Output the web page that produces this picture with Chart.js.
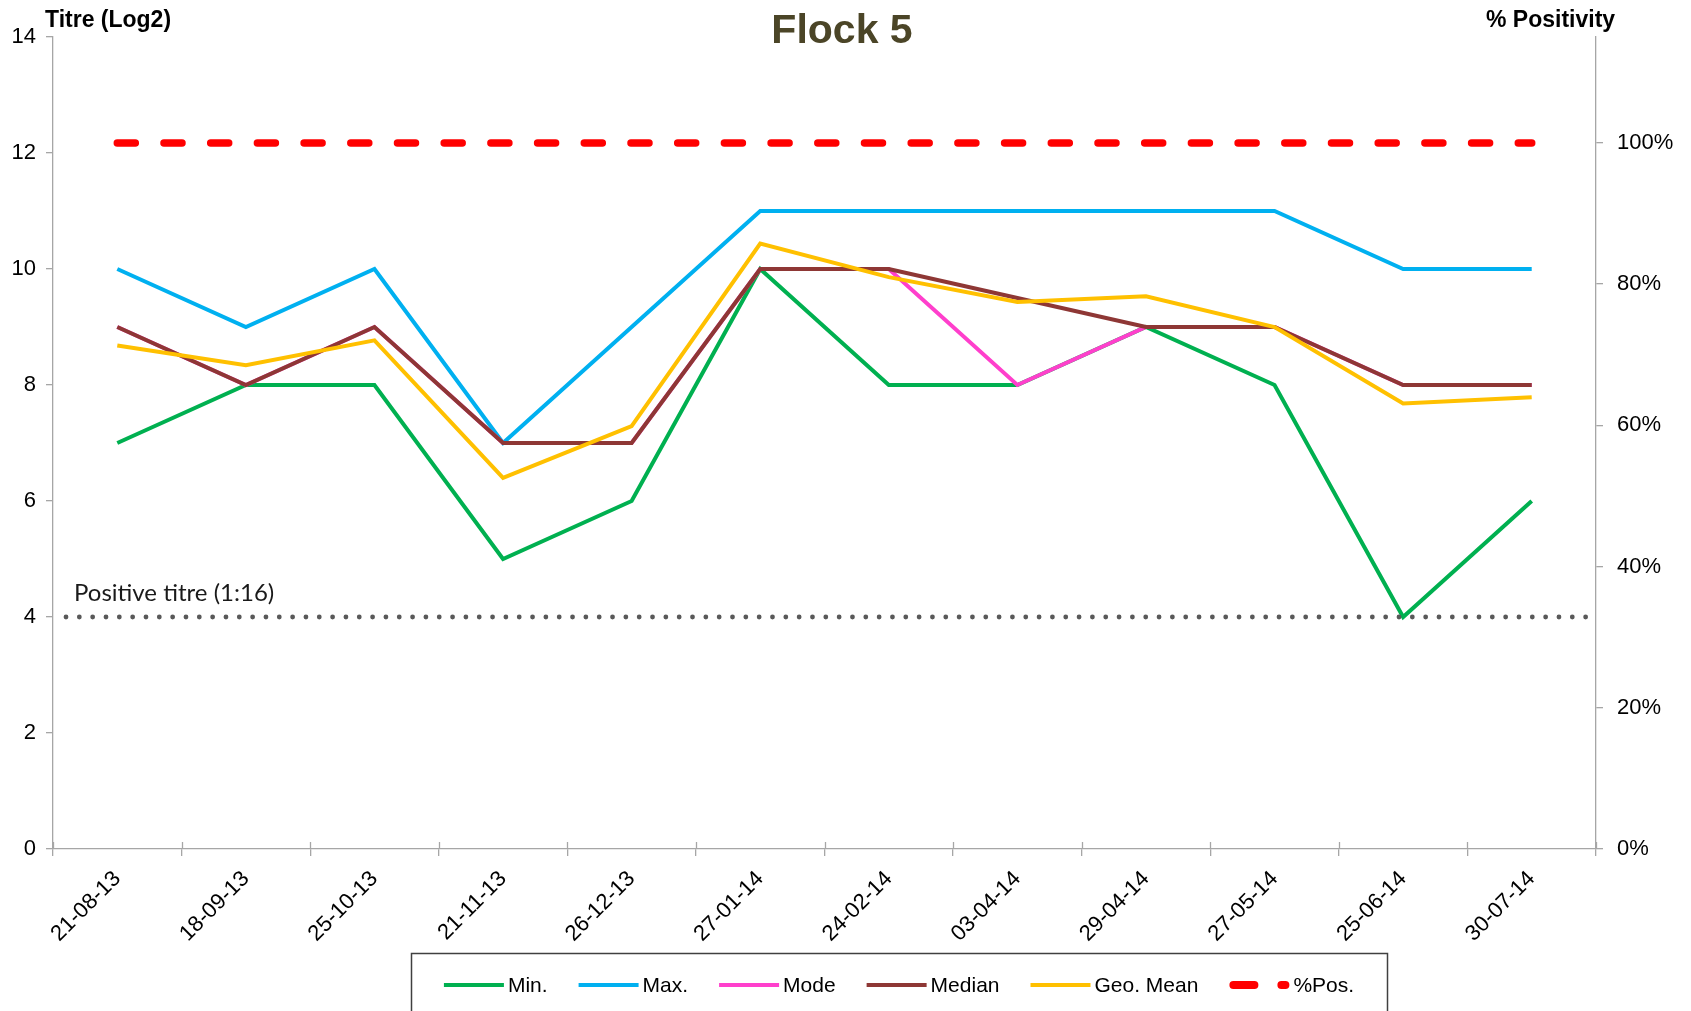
<!DOCTYPE html>
<html>
<head>
<meta charset="utf-8">
<script src="https://cdn.jsdelivr.net/npm/chart.js@4.4.1/dist/chart.umd.min.js"></script>
<style>
html,body{margin:0;padding:0;background:#fff;overflow:hidden}
#wrap{width:1691px;height:1011px;position:relative}
</style>
</head>
<body>
<div id="wrap"><canvas id="c" width="1691" height="1011"></canvas></div>
<script>
// ---- data ----
const categories = ['21-08-13','18-09-13','25-10-13','21-11-13','26-12-13','27-01-14','24-02-14','03-04-14','29-04-14','27-05-14','25-06-14','30-07-14'];
const minValues    = [7, 8, 8, 5, 6, 10, 8, 8, 9, 8, 4, 6];
const maxValues    = [10, 9, 10, 7, 9, 11, 11, 11, 11, 11, 10, 10];
const modeValues   = [9, 8, 9, 7, 7, 10, 10, 8, 9, 9, 8, 8];
const medianValues = [9, 8, 9, 7, 7, 10, 10, 9.5, 9, 9, 8, 8];
const geoMeanValues= [8.68, 8.34, 8.77, 6.40, 7.29, 10.44, 9.86, 9.43, 9.53, 9.00, 7.68, 7.79];
const posValues    = [100, 100, 100, 100, 100, 100, 100, 100, 100, 100, 100, 100];
const leftTicks  = [0, 2, 4, 6, 8, 10, 12, 14];
const rightTicks = [0, 20, 40, 60, 80, 100];
const positiveTitre = 4;
const positiveTitreLabel = 'Positive titre (1:16)';
const chartTitle = 'Flock 5';
const leftAxisTitle = 'Titre (Log2)';
const rightAxisTitle = '% Positivity';

const ARIAL = '"Liberation Sans", Arial, sans-serif';
const AXIS_COLOR = '#A6A6A6';

const overlay = {
  id: 'overlay',
  afterDatasetsDraw(chart) {
    const ctx = chart.ctx, xs = chart.scales.x, ys = chart.scales.y, ca = chart.chartArea;
    ctx.save();
    // inner part of x tick marks (cross style)
    const step = xs.getPixelForValue(1) - xs.getPixelForValue(0);
    ctx.strokeStyle = AXIS_COLOR; ctx.lineWidth = 1.3;
    for (let i = 0; i <= categories.length; i++) {
      const x = Math.round(xs.getPixelForValue(0) - step / 2 + i * step) + 0.5;
      ctx.beginPath(); ctx.moveTo(x, ca.bottom); ctx.lineTo(x, ca.bottom - 7); ctx.stroke();
    }
    // positive titre dotted reference line
    const yp = ys.getPixelForValue(positiveTitre);
    ctx.strokeStyle = '#595959'; ctx.lineWidth = 4.8; ctx.lineCap = 'round';
    ctx.setLineDash([0, 13.33]);
    ctx.beginPath(); ctx.moveTo(ca.left + 13, yp); ctx.lineTo(ca.right - 6, yp); ctx.stroke();
    ctx.setLineDash([]);
    ctx.fillStyle = '#1a1a1a'; ctx.font = '24px Lato, "Open Sans", sans-serif';
    ctx.textAlign = 'left'; ctx.textBaseline = 'alphabetic';
    ctx.fillText(positiveTitreLabel, ca.left + 21, yp - 16);
    ctx.restore();
  },
  afterDraw(chart) {
    const ctx = chart.ctx;
    ctx.save();
    // title
    ctx.fillStyle = '#4B4527';
    ctx.font = 'bold 41px ' + ARIAL; ctx.textAlign = 'center'; ctx.textBaseline = 'alphabetic';
    ctx.fillText(chartTitle, 842, 43);
    // axis titles
    ctx.fillStyle = '#000'; ctx.font = 'bold 23px ' + ARIAL; ctx.textAlign = 'left';
    ctx.fillText(leftAxisTitle, 45, 27);
    ctx.fillText(rightAxisTitle, 1486, 27);
    // legend
    const boxL = 411, boxR = 1387, boxT = 953, cy = 985;
    ctx.fillStyle = '#fff'; ctx.fillRect(boxL, boxT, boxR - boxL, 70);
    ctx.strokeStyle = '#404040'; ctx.lineWidth = 1.5;
    ctx.strokeRect(boxL + 0.5, boxT + 0.5, boxR - boxL, 80);
    ctx.font = '21px ' + ARIAL; ctx.textBaseline = 'middle';
    const lineLen = 60, txtGap = 4, itemGap = 31;
    const ds = chart.data.datasets;
    let total = 0;
    const widths = ds.map(d => ctx.measureText(d.label).width);
    widths.forEach(w => total += lineLen + txtGap + w);
    total += itemGap * (ds.length - 1);
    let x = (boxL + boxR) / 2 - total / 2;
    ds.forEach((d, i) => {
      ctx.strokeStyle = d.borderColor;
      ctx.lineWidth = d.borderDash ? 8 : 4;
      ctx.lineCap = d.borderDash ? 'round' : 'butt';
      ctx.setLineDash(d.borderDash ? [21, 27] : []);
      ctx.beginPath();
      const o = d.borderDash ? 4 : 0;
      ctx.moveTo(x + o, cy); ctx.lineTo(x + lineLen - o, cy); ctx.stroke();
      ctx.setLineDash([]);
      ctx.fillStyle = '#000';
      ctx.fillText(d.label, x + lineLen + txtGap, cy + 1);
      x += lineLen + txtGap + widths[i] + itemGap;
    });
    ctx.restore();
  }
};

const tickFont = { family: ARIAL, size: 22 };

new Chart(document.getElementById('c'), {
  type: 'line',
  data: {
    labels: categories,
    datasets: [
      { label: 'Min.', data: minValues, borderColor: '#00B050', yAxisID: 'y', order: 6 },
      { label: 'Max.', data: maxValues, borderColor: '#00B0F0', yAxisID: 'y', order: 5 },
      { label: 'Mode', data: modeValues, borderColor: '#FF3FCC', yAxisID: 'y', order: 4 },
      { label: 'Median', data: medianValues, borderColor: '#8E3735', yAxisID: 'y', order: 3 },
      { label: 'Geo. Mean', data: geoMeanValues, borderColor: '#FFC000', yAxisID: 'y', order: 2 },
      { label: '%Pos.', data: posValues, borderColor: '#FF0000', yAxisID: 'y1', order: 1,
        borderDash: [18, 28.7], borderCapStyle: 'round', borderWidth: 7.5 }
    ]
  },
  options: {
    responsive: false,
    animation: false,
    devicePixelRatio: 1,
    layout: { padding: { top: 37, left: 0, right: 0, bottom: 0 } },
    elements: {
      line: { borderWidth: 4, tension: 0, fill: false },
      point: { radius: 0, hoverRadius: 0 }
    },
    plugins: { legend: { display: false }, title: { display: false }, tooltip: { enabled: false } },
    scales: {
      x: {
        type: 'category',
        offset: true,
        grid: { offset: true, drawOnChartArea: false, tickLength: 7, color: AXIS_COLOR, lineWidth: 1.3 },
        border: { display: true, color: AXIS_COLOR, width: 1.3 },
        ticks: { autoSkip: false, minRotation: 45, maxRotation: 45, font: { family: ARIAL, size: 22 }, color: '#000', padding: 10 },
        afterFit(s) { s.height = 162; }
      },
      y: {
        position: 'left', min: 0, max: 14,
        afterBuildTicks(s) { s.ticks = leftTicks.map(v => ({ value: v })); },
        grid: { drawOnChartArea: false, tickLength: 7, color: AXIS_COLOR, lineWidth: 1.3 },
        border: { display: true, color: AXIS_COLOR, width: 1.3 },
        ticks: { font: tickFont, color: '#000', padding: 10 },
        afterFit(s) { s.width = 53; }
      },
      y1: {
        position: 'right', min: 0, max: 115,
        afterBuildTicks(s) { s.ticks = rightTicks.map(v => ({ value: v })); },
        grid: { drawOnChartArea: false, tickLength: 7, color: AXIS_COLOR, lineWidth: 1.3 },
        border: { display: true, color: AXIS_COLOR, width: 1.3 },
        ticks: { font: tickFont, color: '#000', padding: 14, callback: v => v + '%' },
        afterFit(s) { s.width = 95; }
      }
    }
  },
  plugins: [overlay]
});
</script>
</body>
</html>
